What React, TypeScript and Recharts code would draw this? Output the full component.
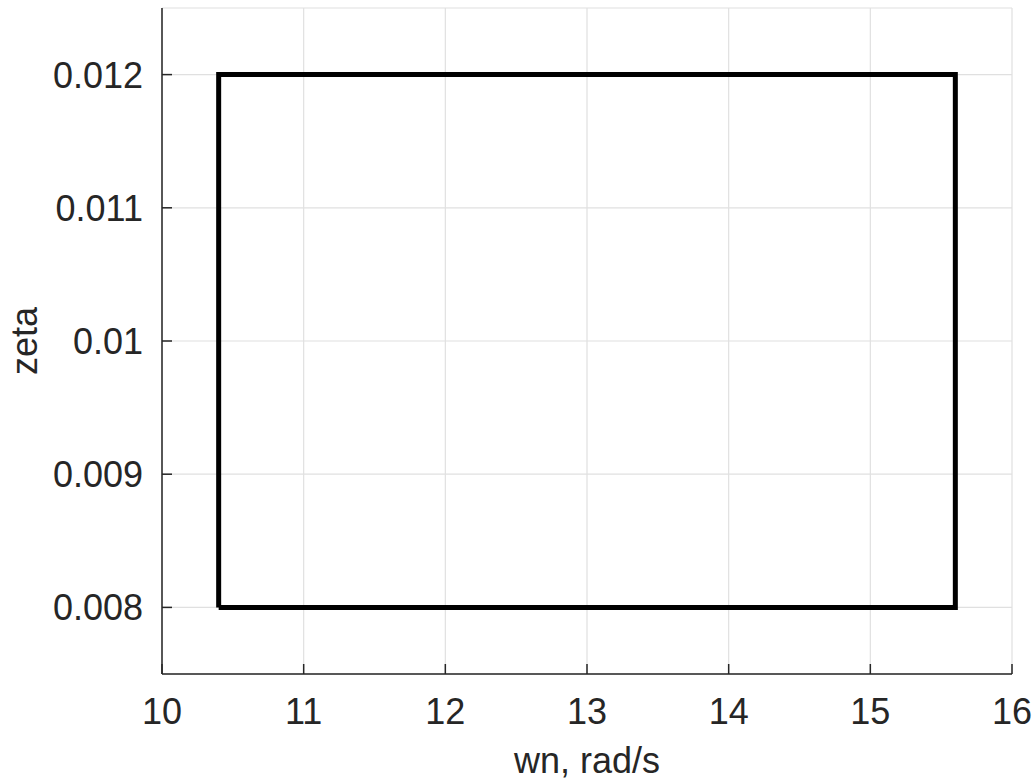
import { LineChart, Line, XAxis, YAxis, CartesianGrid } from "recharts";

// rectangle corners (wn, zeta)
const wnValues = [10.4, 10.4, 15.6, 15.6, 10.4];
const zetaValues = [0.008, 0.012, 0.012, 0.008, 0.008];

const xTicks = [10, 11, 12, 13, 14, 15, 16];
const yTicks = [0.008, 0.009, 0.01, 0.011, 0.012];

const data = wnValues.map((wn, i) => ({ wn, zeta: zetaValues[i] }));

const FONT = '"Liberation Sans", Arial, Helvetica, sans-serif';
const AXIS = "#262626";

function XTick(props: any) {
  const { x, y, payload } = props;
  return (
    <g>
      <line x1={x} y1={y} x2={x} y2={y - 10} stroke={AXIS} strokeWidth={1.5} />
      <text x={x} y={y + 50} textAnchor="middle" fill={AXIS} fontSize={36} fontFamily={FONT}>
        {payload.value}
      </text>
    </g>
  );
}

function YTick(props: any) {
  const { x, y, payload } = props;
  return (
    <g>
      <line x1={x} y1={y} x2={x + 10} y2={y} stroke={AXIS} strokeWidth={1.5} />
      <text x={x - 19} y={y + 13} textAnchor="end" fill={AXIS} fontSize={36} fontFamily={FONT}>
        {String(payload.value)}
      </text>
    </g>
  );
}

export default function App() {
  return (
    <div style={{ position: "absolute", left: 0, top: 0, width: 1032, height: 781, background: "#fff" }}>
      <LineChart
        width={1032}
        height={781}
        data={data}
        margin={{ top: 8, right: 20, left: 62, bottom: 47 }}
      >
        <CartesianGrid stroke="#e0e0e0" strokeWidth={1.2} />
        <XAxis
          dataKey="wn"
          type="number"
          domain={[10, 16]}
          ticks={xTicks}
          height={60}
          tickSize={0}
          tickMargin={0}
          tickLine={false}
          axisLine={{ stroke: AXIS, strokeWidth: 1.5 }}
          tick={<XTick />}
          interval={0}
          label={{
            content: () => (
              <text x={587} y={773} textAnchor="middle" fill={AXIS} fontSize={36} fontFamily={FONT}>
                wn, rad/s
              </text>
            ),
          }}
        />
        <YAxis
          dataKey="zeta"
          type="number"
          domain={[0.0075, 0.0125]}
          ticks={yTicks}
          width={100}
          tickSize={0}
          tickMargin={0}
          tickLine={false}
          axisLine={{ stroke: AXIS, strokeWidth: 1.5 }}
          tick={<YTick />}
          interval={0}
          label={{
            content: () => (
              <text
                x={37}
                y={341}
                transform="rotate(-90, 37, 341)"
                textAnchor="middle"
                fill={AXIS}
                fontSize={36}
                fontFamily={FONT}
              >
                zeta
              </text>
            ),
          }}
        />
        <Line
          type="linear"
          dataKey="zeta"
          stroke="#000"
          strokeWidth={5}
          dot={false}
          isAnimationActive={false}
          strokeLinejoin="miter"
        />
      </LineChart>
    </div>
  );
}
